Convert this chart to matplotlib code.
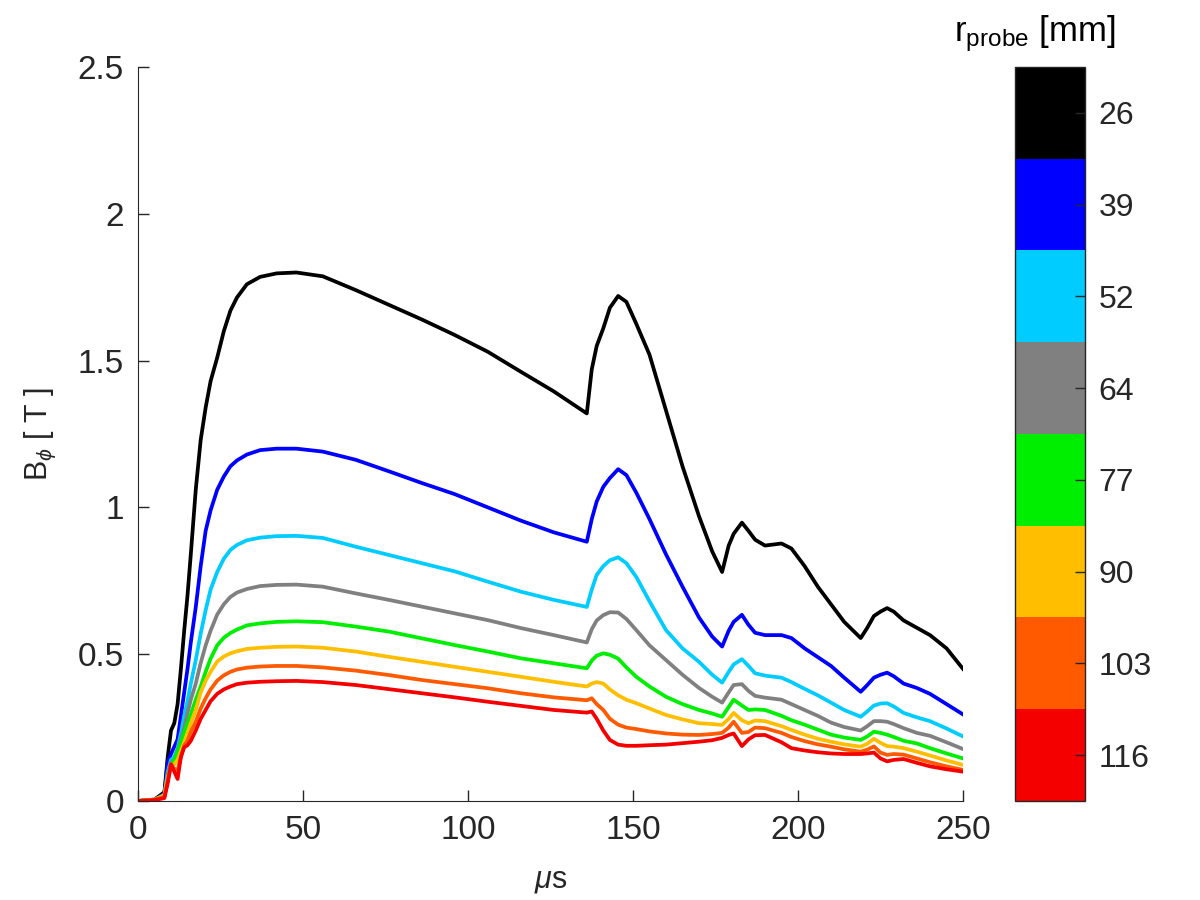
import matplotlib
matplotlib.use('Agg')
from matplotlib import pyplot as plt
from matplotlib.colors import ListedColormap, Normalize
from matplotlib.cm import ScalarMappable

plt.rcParams['font.family'] = ['Liberation Sans', 'DejaVu Sans']
plt.rcParams['mathtext.fontset'] = 'custom'
plt.rcParams['mathtext.rm'] = 'Liberation Sans'
plt.rcParams['mathtext.it'] = 'Liberation Sans:italic'

# time axis (microseconds)
t = [0, 5, 8, 9, 10, 11, 12, 13, 14, 15, 16, 17.5, 19, 20.5, 22, 24, 26, 28, 30, 33, 37, 42, 48,
     56, 66, 76, 86, 96, 106, 116, 126, 136, 137.5, 139, 141, 143, 145.5, 148, 151, 155, 160,
     165, 170, 174, 177, 179, 180.5, 183, 185, 187, 190, 195, 198, 202, 206, 210, 214, 219,
     221, 223, 225, 227, 229, 232, 236, 240, 245, 250]

# B_phi [T] for each probe radius
b_26 = [0, 0.005, 0.03, 0.15, 0.24, 0.265, 0.33, 0.45, 0.58, 0.70, 0.84, 1.06, 1.23, 1.34, 1.43,
        1.51, 1.60, 1.67, 1.715, 1.76, 1.785, 1.797, 1.80,
        1.787, 1.74, 1.69, 1.64, 1.587, 1.53, 1.462, 1.395, 1.32, 1.47, 1.55, 1.61, 1.68, 1.72,
        1.70, 1.625, 1.52, 1.33,
        1.14, 0.97, 0.85, 0.78, 0.87, 0.91, 0.948, 0.92, 0.89, 0.87, 0.877, 0.86, 0.80, 0.73,
        0.67, 0.61, 0.555,
        0.59, 0.63, 0.645, 0.657, 0.645, 0.615, 0.59, 0.565, 0.52, 0.45]
b_39 = [0, 0.004, 0.025, 0.13, 0.16, 0.185, 0.21, 0.29, 0.37, 0.45, 0.54, 0.66, 0.80, 0.92, 0.99,
        1.06, 1.105, 1.14, 1.16, 1.18, 1.195, 1.20, 1.20,
        1.19, 1.162, 1.123, 1.083, 1.045, 1.00, 0.955, 0.915, 0.883, 0.96, 1.02, 1.07, 1.10, 1.13,
        1.11, 1.05, 0.96, 0.84,
        0.73, 0.625, 0.56, 0.526, 0.58, 0.61, 0.634, 0.60, 0.573, 0.565, 0.565, 0.555, 0.52, 0.49,
        0.46, 0.42, 0.372,
        0.395, 0.42, 0.43, 0.437, 0.425, 0.40, 0.385, 0.365, 0.33, 0.295]
b_52 = [0, 0.004, 0.02, 0.10, 0.14, 0.15, 0.18, 0.23, 0.29, 0.34, 0.40, 0.48, 0.57, 0.65, 0.72,
        0.78, 0.825, 0.855, 0.872, 0.888, 0.897, 0.902, 0.903,
        0.896, 0.866, 0.838, 0.81, 0.782, 0.747, 0.713, 0.685, 0.661, 0.72, 0.77, 0.80, 0.82, 0.83,
        0.81, 0.763, 0.68, 0.582,
        0.52, 0.474, 0.43, 0.403, 0.44, 0.465, 0.483, 0.46, 0.435, 0.427, 0.42, 0.405, 0.382, 0.36,
        0.335, 0.31, 0.287,
        0.305, 0.325, 0.332, 0.333, 0.322, 0.30, 0.285, 0.272, 0.247, 0.22]
b_64 = [0, 0.004, 0.02, 0.09, 0.13, 0.14, 0.17, 0.21, 0.25, 0.30, 0.345, 0.40, 0.47, 0.53, 0.58,
        0.635, 0.67, 0.695, 0.71, 0.722, 0.732, 0.736, 0.737,
        0.73, 0.707, 0.685, 0.662, 0.639, 0.616, 0.589, 0.565, 0.54, 0.585, 0.615, 0.633, 0.643, 0.642,
        0.62, 0.582, 0.53, 0.48,
        0.43, 0.385, 0.355, 0.335, 0.37, 0.395, 0.398, 0.375, 0.358, 0.352, 0.345, 0.33, 0.31, 0.29,
        0.267, 0.252, 0.24,
        0.255, 0.272, 0.272, 0.27, 0.262, 0.248, 0.232, 0.222, 0.20, 0.177]
b_77 = [0, 0.004, 0.02, 0.08, 0.12, 0.14, 0.17, 0.20, 0.235, 0.265, 0.295, 0.345, 0.39, 0.44, 0.485,
        0.53, 0.556, 0.572, 0.584, 0.598, 0.605, 0.61, 0.612,
        0.609, 0.594, 0.577, 0.554, 0.531, 0.509, 0.486, 0.469, 0.452, 0.478, 0.495, 0.503, 0.498, 0.485,
        0.455, 0.423, 0.39, 0.355,
        0.33, 0.31, 0.298, 0.287, 0.32, 0.345, 0.325, 0.31, 0.312, 0.31, 0.29, 0.275, 0.26, 0.243,
        0.226, 0.216, 0.208,
        0.22, 0.236, 0.232, 0.226, 0.218, 0.205, 0.196, 0.18, 0.162, 0.145]
b_90 = [0, 0.004, 0.02, 0.08, 0.115, 0.125, 0.14, 0.17, 0.20, 0.23, 0.265, 0.31, 0.37, 0.41, 0.44,
        0.475, 0.492, 0.503, 0.51, 0.518, 0.522, 0.525, 0.526,
        0.522, 0.509, 0.491, 0.474, 0.457, 0.44, 0.423, 0.406, 0.39, 0.40, 0.405, 0.40, 0.38, 0.36,
        0.345, 0.333, 0.315, 0.293,
        0.278, 0.265, 0.262, 0.259, 0.28, 0.30, 0.275, 0.265, 0.274, 0.272, 0.255, 0.242, 0.226, 0.212,
        0.202, 0.193, 0.185,
        0.195, 0.212, 0.198, 0.187, 0.185, 0.18, 0.168, 0.155, 0.138, 0.123]
b_103 = [0, 0.004, 0.015, 0.07, 0.125, 0.11, 0.105, 0.15, 0.19, 0.205, 0.235, 0.27, 0.315, 0.35, 0.38,
         0.41, 0.428, 0.44, 0.448, 0.454, 0.458, 0.46, 0.46,
         0.455, 0.444, 0.429, 0.412, 0.398, 0.384, 0.367, 0.353, 0.343, 0.35, 0.33, 0.31, 0.28, 0.26,
         0.25, 0.245, 0.237, 0.23,
         0.226, 0.225, 0.228, 0.232, 0.25, 0.27, 0.232, 0.235, 0.25, 0.248, 0.232, 0.218, 0.204, 0.193,
         0.185, 0.176, 0.168,
         0.175, 0.186, 0.165, 0.157, 0.16, 0.158, 0.145, 0.132, 0.118, 0.106]
b_116 = [0, 0.003, 0.01, 0.06, 0.125, 0.10, 0.075, 0.15, 0.183, 0.19, 0.205, 0.24, 0.28, 0.31, 0.34,
         0.365, 0.38, 0.39, 0.398, 0.403, 0.406, 0.408, 0.409,
         0.405, 0.395, 0.381, 0.367, 0.353, 0.338, 0.324, 0.31, 0.301, 0.305, 0.28, 0.24, 0.208, 0.192,
         0.188, 0.188, 0.19, 0.192,
         0.197, 0.202, 0.207, 0.215, 0.225, 0.23, 0.187, 0.21, 0.224, 0.225, 0.20, 0.18, 0.172, 0.166,
         0.162, 0.16, 0.16,
         0.162, 0.165, 0.145, 0.135, 0.14, 0.143, 0.13, 0.118, 0.108, 0.10]

radii = [26, 39, 52, 64, 77, 90, 103, 116]
series = [b_26, b_39, b_52, b_64, b_77, b_90, b_103, b_116]
colors = ['#000000', '#0000ff', '#00ccff', '#808080', '#00ee00', '#ffbf00', '#ff5a00', '#f50000']

axcol = '#262626'

fig = plt.figure(figsize=(12, 9), dpi=100)
ax = fig.add_axes([0.115, 0.11, 0.6875, 0.8156])

for b, c in zip(series, colors):
    ax.plot(t, b, color=c, linewidth=2.7, solid_joinstyle='round')

ax.set_xlim(0, 250)
ax.set_ylim(0, 2.5)
ax.set_xticks([0, 50, 100, 150, 200, 250])
ax.set_yticks([0, 0.5, 1, 1.5, 2, 2.5])
ax.set_yticklabels(['0', '0.5', '1', '1.5', '2', '2.5'])
ax.tick_params(direction='in', length=8, width=1, colors=axcol, labelsize=24, pad=10)
for s in ['top', 'right']:
    ax.spines[s].set_visible(False)
for s in ['left', 'bottom']:
    ax.spines[s].set_color(axcol)
ax.set_xlabel(r'$\mu$s', fontsize=22, color=axcol, labelpad=14)
ax.set_ylabel(r'B$_\phi$ [ T ]', fontsize=22, color=axcol, labelpad=14)

# discrete colorbar, smallest radius (black) on top
cax = fig.add_axes([0.8458, 0.11, 0.0583, 0.8156])
cmap = ListedColormap(colors[::-1])
sm = ScalarMappable(norm=Normalize(0, len(radii)), cmap=cmap)
cb = fig.colorbar(sm, cax=cax)
cb.set_ticks([i + 0.5 for i in range(len(radii))])
cb.set_ticklabels([str(r) for r in radii[::-1]])
cb.ax.tick_params(direction='in', length=7, width=1, colors=axcol, labelsize=23, pad=10)
cb.outline.set_edgecolor(axcol)
cb.outline.set_linewidth(1)

fig.text(0.862, 0.985, r'r$_{\mathrm{probe}}$ [mm]', fontsize=25, color='black',
         ha='center', va='top')

plt.savefig('out.png', dpi=100)
